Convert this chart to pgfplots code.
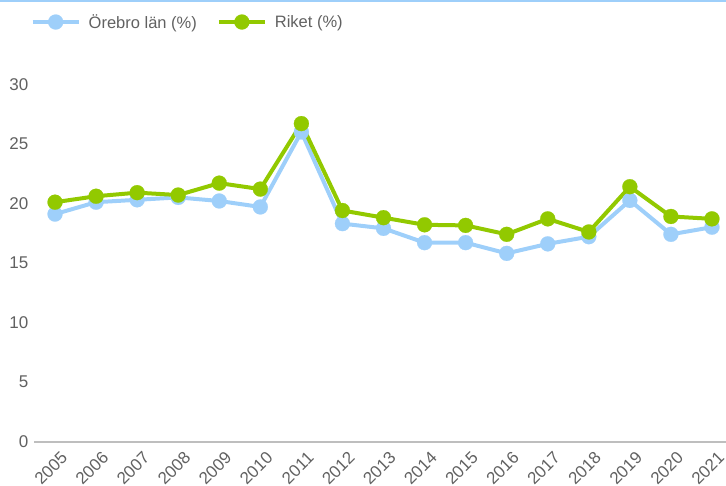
\documentclass[border=0pt]{standalone}
\usepackage{fontspec}
\setmainfont{Liberation Sans}
\usepackage{pgfplots}
\pgfplotsset{compat=1.18}
\definecolor{blueL}{RGB}{158,207,250}
\definecolor{greenL}{RGB}{146,201,0}
\definecolor{txt}{RGB}{97,97,97}
\definecolor{axl}{RGB}{190,190,190}
\begin{document}
\begin{tikzpicture}[x=1pt,y=1pt]
\useasboundingbox (0,0) rectangle (726,485);
\fill[blueL] (0,483) rectangle (726,485);
\begin{axis}[
  at={(34.5pt,43.5pt)}, anchor=south west,
  scale only axis, width=698pt, height=381pt,
  xmin=2004.5, xmax=2021.5, ymin=0, ymax=32,
  axis x line*=bottom, axis y line*=left,
  x axis line style={axl, line width=2pt, -},
  y axis line style={draw=none},
  xtick={2005,2006,...,2021}, ytick={0,5,...,30},
  tick style={draw=none},
  /pgf/number format/1000 sep={},
  /pgf/number format/assume math mode=true,
  tick label style={font=\fontsize{17}{20}\selectfont, text=txt},
  xticklabel style={xshift=5pt, yshift=-9pt, rotate=45, anchor=north east, inner sep=0pt},
  yticklabel style={inner sep=0pt, xshift=-6pt},
  clip=false,
  legend columns=2,
  legend style={at={(axis description cs:0,1.101)}, anchor=west, xshift=-4pt, draw=none, fill=none,
    font=\fontsize{16.5}{20}\selectfont, text=txt, column sep=0pt, inner sep=0pt,
    nodes={inner sep=0pt},
    /tikz/every odd column/.append style={column sep=8pt},
    /tikz/every even column/.append style={column sep=20pt}},
  legend image code/.code={\draw[mark repeat=2,mark phase=2,#1] plot coordinates {(0pt,0pt) (23pt,0pt) (46pt,0pt)};},
]
\addplot[blueL, line width=4pt, mark=*, mark size=7.5pt, mark options={solid, fill=blueL, draw=blueL, line width=0.2pt}] coordinates {
(2005,19.1) (2006,20.1) (2007,20.3) (2008,20.5) (2009,20.2) (2010,19.7) (2011,26.0) (2012,18.3)
(2013,17.9) (2014,16.7) (2015,16.7) (2016,15.8) (2017,16.6) (2018,17.2) (2019,20.25) (2020,17.4) (2021,18.0)};
\addlegendentry{Örebro län (\%)}
\addplot[greenL, line width=4pt, mark=*, mark size=7.5pt, mark options={solid, fill=greenL, draw=greenL, line width=0.2pt}] coordinates {
(2005,20.1) (2006,20.6) (2007,20.9) (2008,20.7) (2009,21.7) (2010,21.2) (2011,26.7) (2012,19.4)
(2013,18.8) (2014,18.2) (2015,18.15) (2016,17.4) (2017,18.7) (2018,17.6) (2019,21.4) (2020,18.9) (2021,18.7)};
\addlegendentry{Riket (\%)}
\end{axis}
\end{tikzpicture}
\end{document}
